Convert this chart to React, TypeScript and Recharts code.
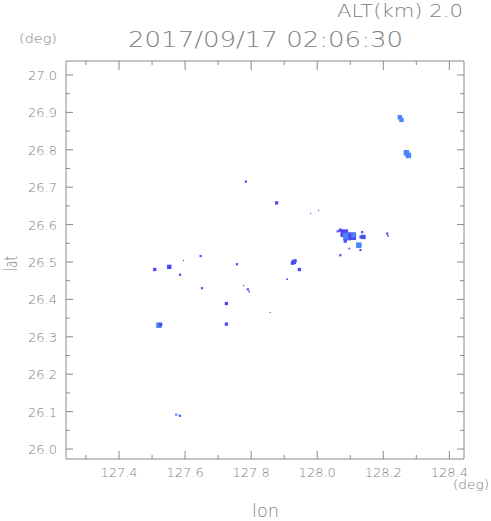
import { ScatterChart, Scatter, XAxis, YAxis } from "recharts";

// ---------------------------------------------------------------------------
// Data (radar echoes at ALT 2.0 km)
// ---------------------------------------------------------------------------
const xTicks = [127.3, 127.4, 127.5, 127.6, 127.7, 127.8, 127.9, 128.0, 128.1, 128.2, 128.3, 128.4];
const yTicks = [
  26.0, 26.05, 26.1, 26.15, 26.2, 26.25, 26.3, 26.35, 26.4, 26.45, 26.5,
  26.55, 26.6, 26.65, 26.7, 26.75, 26.8, 26.85, 26.9, 26.95, 27.0,
];

const echoLon = [
  127.508, 127.552, 127.595, 127.585, 127.647, 127.651, 127.757, 127.725,
  127.521, 127.526, 127.725, 127.777, 127.790, 127.794, 127.858,
  127.925, 127.929, 127.933, 127.946, 127.909, 127.784, 127.877, 127.980, 128.004,
  128.250, 128.255, 128.270, 128.276,
  128.082, 128.090, 128.106, 128.110, 128.070, 128.062, 128.085, 128.140, 128.133,
  128.136, 128.126, 128.131, 128.070, 128.097, 128.212, 128.214,
  127.573, 127.584,
];
const echoLat = [
  26.480, 26.487, 26.504, 26.466, 26.516, 26.430, 26.494, 26.389,
  26.331, 26.333, 26.334, 26.437, 26.427, 26.421, 26.365,
  26.497, 26.500, 26.503, 26.480, 26.454, 26.715, 26.658, 26.630, 26.638,
  26.887, 26.880, 26.792, 26.785,
  26.577, 26.568, 26.569, 26.572, 26.585, 26.582, 26.556, 26.567, 26.567,
  26.580, 26.545, 26.532, 26.518, 26.536, 26.576, 26.570,
  26.092, 26.089,
];
// echo extent in radar cells
const echoCells = [
  3, 4, 1, 2, 2, 2, 2, 3,
  5, 3, 3, 1, 2, 1.5, 1,
  3, 4, 3, 3, 1.5, 2, 3, 1, 1,
  4, 4, 5, 5,
  7, 7, 7, 4, 3, 2, 3, 4, 3,
  2, 5, 2, 2, 1.5, 2, 1.5,
  2, 2,
];
// reflectivity class: 1 = weak, 2 = stronger
const echoLevel = [
  1, 1, 1, 1, 1, 1, 1, 1,
  2, 1, 1, 1, 1, 1, 1,
  1, 1, 1, 1, 1, 1, 1, 1, 1,
  2, 2, 2, 2,
  1, 2, 1, 2, 1, 1, 1, 1, 1,
  1, 2, 1, 1, 1, 1, 1,
  2, 1,
];

const echoes = echoLon.map((lon, i) => ({
  lon,
  lat: echoLat[i],
  cells: echoCells[i],
  level: echoLevel[i],
}));

// ---------------------------------------------------------------------------
// Style
// ---------------------------------------------------------------------------
const W = 491;
const H = 521;
const FRAME = "#8a8a8a";
const TEXT = "#808080";
const FONT = "'DejaVu Sans', sans-serif";
const WEIGHT = 200;
const LEVEL_COLOR: Record<number, string> = { 1: "#4b4bf5", 2: "#4a84fb" };

const isMajor = (v: number, step: number) =>
  Math.abs(Math.round(v / step) * step - v) < 1e-6;

// ---------------------------------------------------------------------------
// Ticks (drawn inward)
// ---------------------------------------------------------------------------
function BottomTick({ x = 0, y = 0, payload }: any) {
  const major = isMajor(payload.value, 0.2);
  return (
    <g>
      <line x1={x} x2={x} y1={y} y2={y - (major ? 8 : 4)} stroke={FRAME} />
      {major && (
        <text x={x} y={y + 18} textAnchor="middle" fill={TEXT} fontSize={13} fontFamily={FONT} fontWeight={WEIGHT}>
          {payload.value.toFixed(1)}
        </text>
      )}
    </g>
  );
}

function TopTick({ x = 0, y = 0, payload }: any) {
  const major = isMajor(payload.value, 0.2);
  return <line x1={x} x2={x} y1={y} y2={y + (major ? 9 : 4)} stroke={FRAME} />;
}

function LeftTick({ x = 0, y = 0, payload }: any) {
  const major = isMajor(payload.value, 0.1);
  return (
    <g>
      <line x1={x} x2={x + (major ? 7 : 4)} y1={y} y2={y} stroke={FRAME} />
      {major && (
        <text x={x - 9} y={y + 5} textAnchor="end" fill={TEXT} fontSize={13} fontFamily={FONT} fontWeight={WEIGHT}>
          {payload.value.toFixed(1)}
        </text>
      )}
    </g>
  );
}

function RightTick({ x = 0, y = 0, payload }: any) {
  const major = isMajor(payload.value, 0.1);
  return <line x1={x} x2={x - (major ? 7 : 4)} y1={y} y2={y} stroke={FRAME} />;
}

function EchoCell({ cx = 0, cy = 0, payload }: any) {
  const s = payload.cells * 1.1;
  return <rect x={cx - s / 2} y={cy - s / 2} width={s} height={s} fill={LEVEL_COLOR[payload.level]} />;
}

// ---------------------------------------------------------------------------
// App
// ---------------------------------------------------------------------------
export default function App() {
  const axisCommon = {
    type: "number" as const,
    allowDataOverflow: true,
    interval: 0 as const,
    tickLine: false,
    tickSize: 0,
    tickMargin: 0,
    axisLine: { stroke: FRAME },
  };

  return (
    <div style={{ position: "absolute", left: 0, top: 0, width: W, height: H, background: "#fff" }}>
      <ScatterChart width={W} height={H} margin={{ top: 60, right: 26, bottom: 61, left: 65 }}>
        <XAxis
          {...axisCommon}
          xAxisId="bottom"
          dataKey="lon"
          orientation="bottom"
          height={1}
          domain={[127.2394, 128.4444]}
          ticks={xTicks}
          tick={<BottomTick />}
        />
        <XAxis
          {...axisCommon}
          xAxisId="top"
          dataKey="lon"
          orientation="top"
          height={1}
          domain={[127.2394, 128.4444]}
          ticks={xTicks}
          tick={<TopTick />}
        />
        <YAxis
          {...axisCommon}
          yAxisId="left"
          dataKey="lat"
          orientation="left"
          width={1}
          domain={[25.9733, 27.0374]}
          ticks={yTicks}
          tick={<LeftTick />}
        />
        <YAxis
          {...axisCommon}
          yAxisId="right"
          dataKey="lat"
          orientation="right"
          width={1}
          domain={[25.9733, 27.0374]}
          ticks={yTicks}
          tick={<RightTick />}
        />
        <Scatter
          data={echoes}
          xAxisId="bottom"
          yAxisId="left"
          shape={<EchoCell />}
          isAnimationActive={false}
        />
      </ScatterChart>

      {/* titles and axis names */}
      <svg
        width={W}
        height={H}
        style={{ position: "absolute", left: 0, top: 0, pointerEvents: "none" }}
        fontFamily={FONT}
        fontWeight={WEIGHT}
        fill={TEXT}
      >
        <text x={337} y={17} fontSize={18} textLength={126} lengthAdjust="spacingAndGlyphs">
          ALT(km) 2.0
        </text>
        <text x={128} y={47} fontSize={21} textLength={275} lengthAdjust="spacingAndGlyphs">
          2017/09/17 02:06:30
        </text>
        <text x={19} y={43} fontSize={12} textLength={38} lengthAdjust="spacingAndGlyphs">
          (deg)
        </text>
        <text x={453} y={489} fontSize={12} textLength={36} lengthAdjust="spacingAndGlyphs">
          (deg)
        </text>
        <text x={252} y={517} fontSize={18} textLength={27} lengthAdjust="spacingAndGlyphs">
          lon
        </text>
        <text
          x={0}
          y={0}
          fontSize={18}
          textLength={15}
          lengthAdjust="spacingAndGlyphs"
          transform="translate(17,271) rotate(-90)"
        >
          lat
        </text>
      </svg>
    </div>
  );
}
